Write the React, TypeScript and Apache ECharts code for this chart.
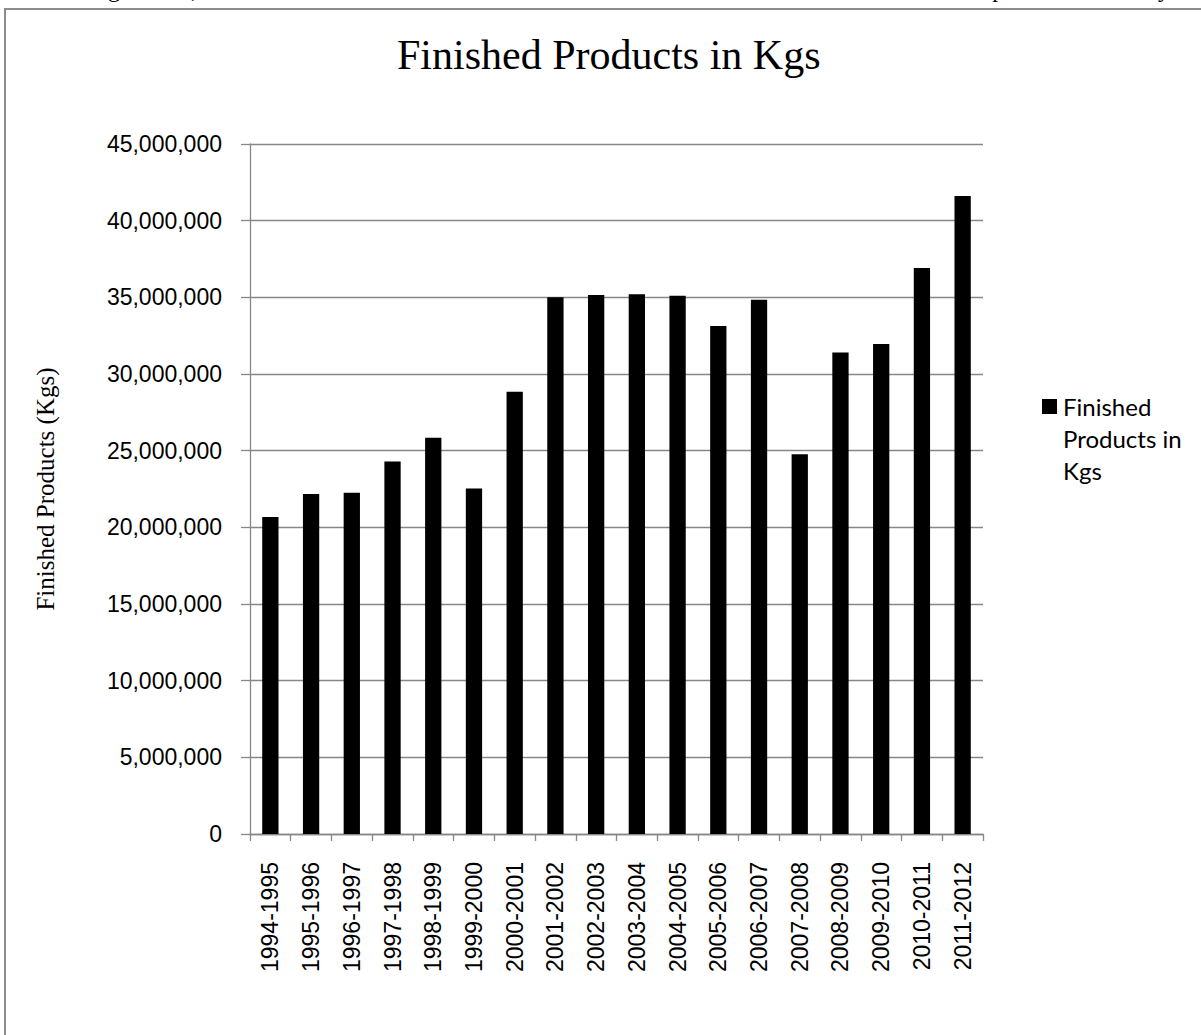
import { useEffect, useRef } from 'react';
import * as echarts from 'echarts';

// Seasons on the category axis
const categories = [
  '1994-1995', '1995-1996', '1996-1997', '1997-1998', '1998-1999', '1999-2000',
  '2000-2001', '2001-2002', '2002-2003', '2003-2004', '2004-2005', '2005-2006',
  '2006-2007', '2007-2008', '2008-2009', '2009-2010', '2010-2011', '2011-2012',
];

// Finished products per season, in kilograms
const finishedKgs = [
  20670000, 22170000, 22260000, 24300000, 25850000, 22540000,
  28850000, 35000000, 35150000, 35200000, 35110000, 33130000,
  34850000, 24760000, 31410000, 31960000, 36910000, 41610000,
];

// Value axis range and step
const yMin = 0;
const yMax = 45000000;
const yStep = 5000000;

const chartTitle = 'Finished Products in Kgs';
const yAxisTitle = 'Finished Products (Kgs)';
const seriesName = 'Finished Products in Kgs';
const legendLines = ['Finished', 'Products in', 'Kgs'];
const captionWords = [
  'Figure', '7,', 'Production', 'trends', 'of', 'Finished', 'Products',
  'in', 'Sandeal', 'under', 'Cooperative', 'Society',
];

const SERIF = '"Liberation Serif", "Times New Roman", serif';
const SANS = '"Liberation Sans", Arial, sans-serif';
const LEGEND_FONT = 'Lato, "Open Sans", sans-serif';
const GRID_GREY = '#878787';

function formatThousands(v: number): string {
  return String(Math.round(v)).replace(/\B(?=(\d{3})+(?!\d))/g, ',');
}

// Spread the caption words evenly across a line (justified text)
function justifiedCaption(x0: number, x1: number, font: string) {
  const canvas = document.createElement('canvas');
  const ctx = canvas.getContext('2d');
  const widths = captionWords.map((w) => {
    if (!ctx) return w.length * 11;
    ctx.font = font;
    return ctx.measureText(w).width;
  });
  const total = widths.reduce((a, b) => a + b, 0);
  const gap = (x1 - x0 - total) / (captionWords.length - 1);
  let x = x0;
  return captionWords.map((w, i) => {
    const el = {
      type: 'text',
      x,
      y: -11.5,
      silent: true,
      style: { text: w, font, fill: '#000', verticalAlign: 'middle', align: 'left' },
    };
    x += widths[i] + gap;
    return el;
  });
}

export default function App() {
  const ref = useRef<HTMLDivElement>(null);

  useEffect(() => {
    if (!ref.current) return;
    const chart = echarts.init(ref.current, null, { renderer: 'svg' });
    const captionFont = `24px ${SERIF}`;

    chart.setOption({
      animation: false,
      backgroundColor: '#ffffff',
      title: {
        text: chartTitle,
        left: 392,
        top: 29,
        textStyle: {
          fontFamily: SERIF,
          fontSize: 42,
          fontWeight: 'normal',
          color: '#000',
        },
      },
      grid: {
        left: 250,
        right: 218,
        top: 144,
        bottom: 201,
        containLabel: false,
        outerBoundsMode: 'none',
      },
      xAxis: {
        type: 'category',
        data: categories,
        axisLine: { show: true, lineStyle: { color: GRID_GREY, width: 1.3 } },
        axisTick: {
          show: true,
          interval: 0,
          alignWithLabel: false,
          length: 7,
          lineStyle: { color: GRID_GREY, width: 1.3 },
        },
        axisLabel: {
          interval: 0,
          rotate: 90,
          margin: 28,
          fontFamily: SANS,
          fontSize: 23,
          color: '#000',
        },
        splitLine: { show: false },
      },
      yAxis: {
        type: 'value',
        min: yMin,
        max: yMax,
        interval: yStep,
        name: yAxisTitle,
        nameLocation: 'middle',
        nameRotate: 90,
        nameGap: 192,
        nameTextStyle: {
          fontFamily: SERIF,
          fontSize: 25,
          color: '#000',
        },
        axisLine: { show: true, lineStyle: { color: GRID_GREY, width: 1.3 } },
        axisTick: {
          show: true,
          length: 9,
          lineStyle: { color: GRID_GREY, width: 1.3 },
        },
        axisLabel: {
          margin: 28,
          fontFamily: SANS,
          fontSize: 23,
          color: '#000',
          formatter: (v: number) => formatThousands(v),
        },
        splitLine: { show: true, lineStyle: { color: GRID_GREY, width: 1.3 } },
      },
      series: [
        {
          name: seriesName,
          type: 'bar',
          data: finishedKgs,
          barWidth: '40%',
          itemStyle: { color: '#000000' },
        },
      ],
      graphic: [
        // outer frame of the chart area
        {
          type: 'rect',
          silent: true,
          z: -1,
          shape: { x: 5, y: 9, width: 1400, height: 1200 },
          style: { fill: 'none', stroke: '#8c8c8c', lineWidth: 2 },
        },
        // legend
        {
          type: 'rect',
          silent: true,
          shape: { x: 1042, y: 399, width: 15, height: 15 },
          style: { fill: '#000' },
        },
        {
          type: 'text',
          silent: true,
          x: 1063,
          y: 390,
          style: {
            text: legendLines.join('\n'),
            font: `24px ${LEGEND_FONT}`,
            lineHeight: 32,
            fill: '#000',
            verticalAlign: 'top',
            align: 'left',
          },
        },
        // caption line running along the top edge
        ...justifiedCaption(88, 1170, captionFont),
      ],
    });

    return () => {
      chart.dispose();
    };
  }, []);

  return (
    <div
      ref={ref}
      style={{ position: 'absolute', left: 0, top: 0, width: 1201, height: 1035, background: '#fff' }}
    />
  );
}
